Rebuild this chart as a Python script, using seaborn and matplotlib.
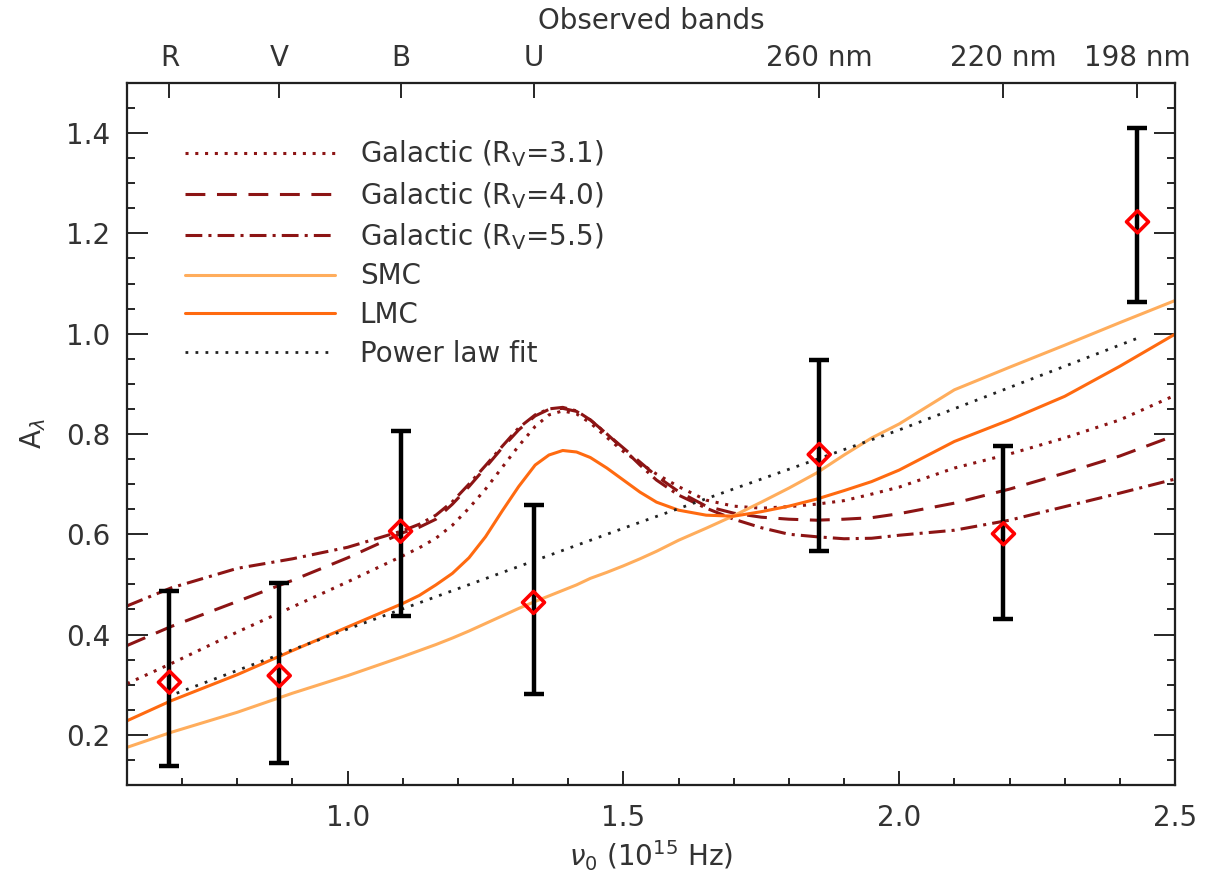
import matplotlib
matplotlib.use("Agg")
import matplotlib.pyplot as plt
import seaborn as sns
import numpy as np
from matplotlib.ticker import MultipleLocator, FormatStrFormatter

# ---------------- data ----------------
nu_grid = [0.60, 0.68, 0.80, 0.90, 1.00, 1.10, 1.13, 1.16, 1.19, 1.22, 1.25, 1.28,
           1.31, 1.34, 1.365, 1.39, 1.415, 1.44, 1.47, 1.50, 1.53, 1.56, 1.60, 1.65,
           1.70, 1.75, 1.80, 1.85, 1.90, 1.95, 2.00, 2.10, 2.20, 2.30, 2.40, 2.50]

gal31 = [0.302, 0.342, 0.405, 0.455, 0.505, 0.557, 0.573, 0.592, 0.618, 0.652, 0.690, 0.733,
         0.776, 0.815, 0.838, 0.846, 0.840, 0.822, 0.793, 0.765, 0.742, 0.720, 0.695, 0.668,
         0.656, 0.652, 0.655, 0.660, 0.667, 0.680, 0.694, 0.732, 0.760, 0.792, 0.828, 0.877]
gal40 = [0.378, 0.416, 0.466, 0.508, 0.553, 0.603, 0.614, 0.630, 0.660, 0.695, 0.733, 0.772,
         0.808, 0.836, 0.849, 0.851, 0.845, 0.828, 0.800, 0.772, 0.744, 0.716, 0.685, 0.656,
         0.642, 0.634, 0.630, 0.628, 0.630, 0.633, 0.641, 0.662, 0.690, 0.722, 0.756, 0.797]
gal55 = [0.457, 0.493, 0.532, 0.551, 0.574, 0.607, 0.620, 0.638, 0.665, 0.700, 0.737, 0.775,
         0.812, 0.838, 0.850, 0.853, 0.846, 0.828, 0.800, 0.770, 0.738, 0.708, 0.678, 0.652,
         0.630, 0.613, 0.600, 0.595, 0.591, 0.592, 0.598, 0.608, 0.628, 0.655, 0.682, 0.710]
lmc = [0.228, 0.268, 0.320, 0.368, 0.415, 0.462, 0.478, 0.499, 0.522, 0.553, 0.595, 0.646,
       0.695, 0.738, 0.758, 0.767, 0.764, 0.753, 0.732, 0.708, 0.684, 0.664, 0.648, 0.638,
       0.636, 0.645, 0.656, 0.670, 0.687, 0.705, 0.728, 0.785, 0.828, 0.875, 0.935, 0.999]
smc = [0.175, 0.205, 0.245, 0.283, 0.318, 0.356, 0.368, 0.380, 0.393, 0.407, 0.422, 0.437,
       0.452, 0.466, 0.477, 0.488, 0.499, 0.512, 0.524, 0.537, 0.551, 0.566, 0.588, 0.612,
       0.637, 0.664, 0.692, 0.722, 0.758, 0.792, 0.820, 0.888, 0.933, 0.977, 1.022, 1.066]

pl_nu = [0.69, 1.0, 1.5, 2.0, 2.43]
pl_A = [0.283, 0.411, 0.612, 0.808, 0.990]

obs_nu = [0.677, 0.876, 1.096, 1.337, 1.855, 2.189, 2.432]
obs_A = [0.305, 0.318, 0.606, 0.464, 0.759, 0.601, 1.223]
obs_lo = [0.137, 0.144, 0.436, 0.282, 0.567, 0.430, 1.064]
obs_hi = [0.487, 0.503, 0.805, 0.658, 0.948, 0.775, 1.410]

band_labels = ["R", "V", "B", "U", "260 nm", "220 nm", "198 nm"]

legend_labels = [r"Galactic (R$_{\rm V}$=3.1)", r"Galactic (R$_{\rm V}$=4.0)",
                 r"Galactic (R$_{\rm V}$=5.5)", "SMC", "LMC", "Power law fit"]

# ---------------- style ----------------
sns.set_theme(style="ticks")
plt.rcParams["font.family"] = ["DejaVu Sans"]
TXT = "#333333"
FS = 20
GAL = "#8c1414"
SMC_C = "#ffad5c"
LMC_C = "#ff6a10"

fig = plt.figure(figsize=(12.06, 8.82), dpi=100)
ax = fig.add_axes([0.1053, 0.110, 0.8690, 0.796])

curves = [
    (gal31, GAL, (0, (1, 2.2)), 2.2, legend_labels[0]),
    (gal40, GAL, (0, (6.5, 3.8)), 2.2, legend_labels[1]),
    (gal55, GAL, (0, (5.5, 2.0, 1, 2.0)), 2.2, legend_labels[2]),
    (smc, SMC_C, "-", 2.2, legend_labels[3]),
    (lmc, LMC_C, "-", 2.2, legend_labels[4]),
]
for vals, col, ls, lw, lab in curves:
    sns.lineplot(x=nu_grid, y=vals, ax=ax, color=col, linestyle=ls, linewidth=lw,
                 label=lab, zorder=2)
sns.lineplot(x=pl_nu, y=pl_A, ax=ax, color="#222222", linestyle=(0, (1, 2.6)),
             linewidth=2.0, label=legend_labels[5], zorder=2)

yerr = [np.array(obs_A) - np.array(obs_lo), np.array(obs_hi) - np.array(obs_A)]
ax.errorbar(obs_nu, obs_A, yerr=yerr, fmt="none", ecolor="black", elinewidth=3.2,
            capsize=7, capthick=3.2, zorder=4)
sns.scatterplot(x=obs_nu, y=obs_A, ax=ax, marker="D", s=125, zorder=5)
coll = ax.collections[-1]
coll.set_facecolor("none")
coll.set_edgecolor("#ff0000")
coll.set_linewidth(2.6)

ax.set_xlim(0.6, 2.5)
ax.set_ylim(0.1, 1.5)
ax.xaxis.set_major_locator(MultipleLocator(0.5))
ax.xaxis.set_minor_locator(MultipleLocator(0.1))
ax.yaxis.set_major_locator(MultipleLocator(0.2))
ax.yaxis.set_minor_locator(MultipleLocator(0.05))
ax.xaxis.set_major_formatter(FormatStrFormatter("%.1f"))
ax.yaxis.set_major_formatter(FormatStrFormatter("%.1f"))

ax.tick_params(axis="x", which="major", direction="in", length=10, width=1.4,
               top=False, bottom=True, labelsize=FS, labelcolor=TXT, pad=14)
ax.tick_params(axis="x", which="minor", direction="in", length=5, width=1.4,
               top=False, bottom=True)
ax.tick_params(axis="y", which="major", direction="in", length=15, width=1.4,
               left=True, right=True, labelsize=FS, labelcolor=TXT, pad=12)
ax.tick_params(axis="y", which="minor", direction="in", length=6, width=1.4,
               left=True, right=True)
for sp in ax.spines.values():
    sp.set_visible(True)
    sp.set_linewidth(1.6)
    sp.set_color("black")

ax.set_xlabel(r"$\nu_0$ (10$^{15}$ Hz)", fontsize=FS, color=TXT, labelpad=4)
ax.set_ylabel(r"A$_\lambda$", fontsize=FS, color=TXT, labelpad=13)

# top axis with observed bands
top = ax.twiny()
top.set_xlim(ax.get_xlim())
top.set_xticks(obs_nu)
top.set_xticklabels(band_labels)
top.tick_params(axis="x", which="major", direction="in", length=11, width=1.4,
                labelsize=FS, labelcolor=TXT, pad=8)
top.tick_params(axis="x", which="minor", top=False, bottom=False)
top.set_xlabel("Observed bands", fontsize=FS, color=TXT, labelpad=11)

handles, labels = ax.get_legend_handles_labels()
leg = ax.legend(handles, labels, loc="upper left", bbox_to_anchor=(0.055, 0.921),
                frameon=False, fontsize=FS, handlelength=5.4, handletextpad=0.9,
                labelspacing=0.38, borderpad=0, borderaxespad=0)
for t in leg.get_texts():
    t.set_color(TXT)

fig.savefig("out.png", dpi=100)
